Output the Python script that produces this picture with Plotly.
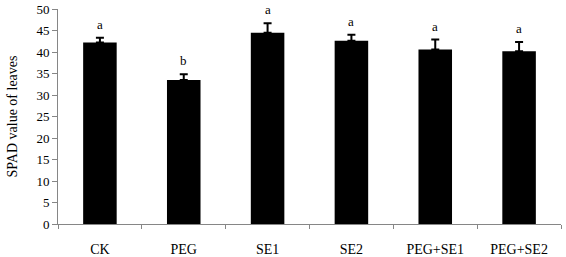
import plotly.graph_objects as go

categories = ["CK", "PEG", "SE1", "SE2", "PEG+SE1", "PEG+SE2"]
values = [42.2, 33.5, 44.5, 42.6, 40.6, 40.2]
errors = [1.1, 1.3, 2.2, 1.4, 2.3, 2.1]
letters = ["a", "b", "a", "a", "a", "a"]
y_ticks = list(range(0, 51, 5))

font = "Liberation Serif, Times New Roman, serif"

fig = go.Figure()
fig.add_trace(go.Bar(
    x=categories, y=values, width=0.4,
    marker=dict(color="black", line=dict(color="black", width=0)),
    error_y=dict(type="data", array=errors, symmetric=False, arrayminus=[0]*len(errors),
                 color="black", thickness=2, width=4),
    showlegend=False,
))

for c, v, e, t in zip(categories, values, errors, letters):
    fig.add_annotation(x=c, y=v + e, text=t, showarrow=False, yanchor="bottom",
                       yshift=4, font=dict(family=font, size=13, color="#000000"))

fig.update_layout(
    width=566, height=257,
    margin=dict(l=58, r=5, t=9, b=33),
    paper_bgcolor="white", plot_bgcolor="white",
    font=dict(family=font, size=13, color="black"),
    bargap=0.6,
)
fig.update_xaxes(
    automargin=False,
    showline=True, linecolor="#868686", linewidth=1,
    ticks="outside", tickson="boundaries", ticklen=4, tickcolor="#868686",
    ticklabelstandoff=12,
    tickfont=dict(family=font, size=14, color="black"),
)
fig.update_yaxes(
    automargin=False,
    range=[0, 50], tickvals=y_ticks, showgrid=False, zeroline=False,
    showline=True, linecolor="#868686", linewidth=1,
    ticks="outside", ticklen=5, tickcolor="#868686",
    tickfont=dict(family=font, size=13, color="black"),
    title=dict(text="SPAD value of leaves", font=dict(family=font, size=14, color="black"), standoff=15),
)

fig.write_html("out.html", config={"displayModeBar": False},
               post_script="document.body.style.margin='0';")
